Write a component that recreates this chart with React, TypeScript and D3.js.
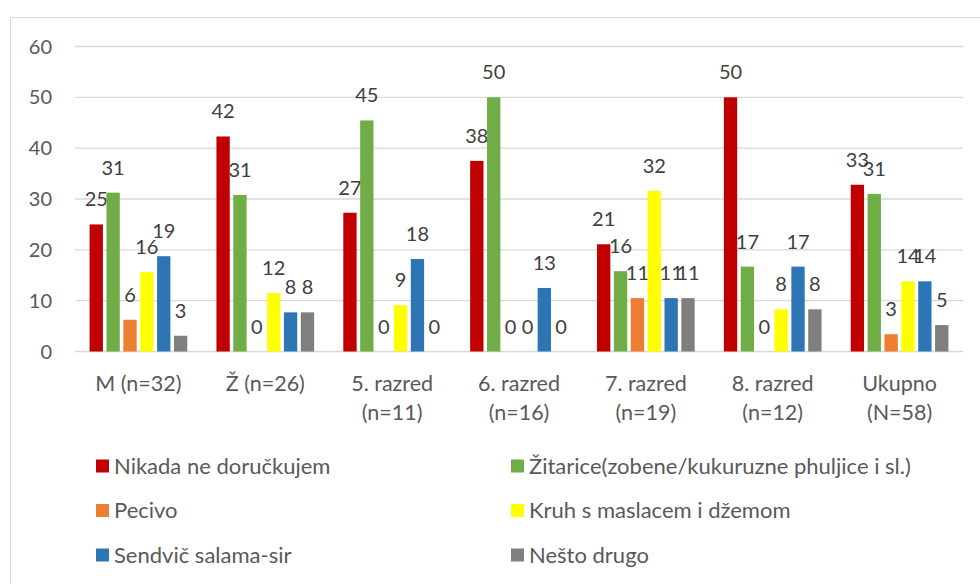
import * as d3 from "d3";
import { useEffect, useRef } from "react";

const categories = [
  ["M (n=32)"],
  ["Ž (n=26)"],
  ["5. razred", "(n=11)"],
  ["6. razred", "(n=16)"],
  ["7. razred", "(n=19)"],
  ["8. razred", "(n=12)"],
  ["Ukupno", "(N=58)"],
];

const seriesNames = [
  "Nikada ne doručkujem",
  "Žitarice(zobene/kukuruzne phuljice i sl.)",
  "Pecivo",
  "Kruh s maslacem i džemom",
  "Sendvič salama-sir",
  "Nešto drugo",
];

const colors = ["#C00000", "#70AD47", "#ED7D31", "#FFFF00", "#2E75B6", "#7F7F7F"];

// one array per series, values per category (percent)
const nikada = [25, 42.3, 27.3, 37.5, 21.1, 50, 32.8];
const zitarice = [31.25, 30.8, 45.45, 50, 15.8, 16.7, 31.0];
const pecivo = [6.25, 0, 0, 0, 10.5, 0, 3.4];
const kruh = [15.6, 11.5, 9.1, 0, 31.6, 8.3, 13.8];
const sendvic = [18.75, 7.7, 18.2, 12.5, 10.5, 16.7, 13.8];
const nestoDrugo = [3.1, 7.7, 0, 0, 10.5, 8.3, 5.2];

const series = [nikada, zitarice, pecivo, kruh, sendvic, nestoDrugo];
const yTicks = [0, 10, 20, 30, 40, 50, 60];

export default function App() {
  const svgRef = useRef<SVGSVGElement>(null);

  useEffect(() => {
    const w = 980;
    const h = 584;
    const svg = d3.select(svgRef.current).attr("width", w).attr("height", h);
    svg.selectAll("*").remove();

    const font = "Lato, 'Open Sans', sans-serif";

    // chart border
    svg
      .append("rect")
      .attr("x", 10.5)
      .attr("y", 17.5)
      .attr("width", 1000)
      .attr("height", 600)
      .attr("fill", "#fff")
      .attr("stroke", "#d9d9d9");

    //scales
    const left = 75;
    const right = 963;
    const x0 = d3
      .scaleBand()
      .domain(categories.map((_, i) => String(i)))
      .range([left, right])
      .paddingInner(0.23)
      .paddingOuter(0.115);
    const x1 = d3
      .scaleBand()
      .domain(seriesNames.map((_, i) => String(i)))
      .range([0, x0.bandwidth()])
      .paddingInner(0.21);
    const y = d3.scaleLinear().domain([0, 60]).range([351.5, 46.5]);

    //grid
    svg
      .append("g")
      .selectAll("line")
      .data(yTicks)
      .join("line")
      .attr("x1", left)
      .attr("x2", right)
      .attr("y1", (d) => y(d))
      .attr("y2", (d) => y(d))
      .attr("stroke", "#d9d9d9")
      .attr("stroke-width", 1.3);

    svg
      .append("g")
      .selectAll("text")
      .data(yTicks)
      .join("text")
      .attr("x", 52)
      .attr("y", (d) => y(d))
      .attr("dy", "0.35em")
      .attr("text-anchor", "end")
      .attr("font-family", font)
      .attr("font-size", 20)
      .attr("fill", "#595959")
      .text((d) => d);

    //bars
    series.forEach((vals, s) => {
      const g = svg.append("g");
      g.selectAll("rect")
        .data(vals)
        .join("rect")
        .attr("x", (_, i) => x0(String(i))! + x1(String(s))!)
        .attr("y", (v) => y(v))
        .attr("width", x1.bandwidth())
        .attr("height", (v) => y(0) - y(v))
        .attr("fill", colors[s]);
      g.selectAll("text")
        .data(vals)
        .join("text")
        .attr("x", (_, i) => x0(String(i))! + x1(String(s))! + x1.bandwidth() / 2)
        .attr("y", (v) => y(v) - 18)
        .attr("text-anchor", "middle")
        .attr("font-family", font)
        .attr("font-size", 20)
        .attr("fill", "#404040")
        .text((v) => Math.round(v));
    });

    //category labels
    const cat = svg.append("g");
    categories.forEach((lines, i) => {
      lines.forEach((line, j) => {
        cat
          .append("text")
          .attr("x", x0(String(i))! + x0.bandwidth() / 2)
          .attr("y", 391 + j * 29)
          .attr("text-anchor", "middle")
          .attr("font-family", font)
          .attr("font-size", 21.5)
          .attr("fill", "#595959")
          .text(line);
      });
    });

    //legend
    const legend = svg.append("g");
    seriesNames.forEach((name, i) => {
      const col = i % 2;
      const row = Math.floor(i / 2);
      const lx = col === 0 ? 96 : 511;
      const ly = 466 + row * 44.5;
      legend
        .append("rect")
        .attr("x", lx)
        .attr("y", ly - 6.5)
        .attr("width", 13)
        .attr("height", 13)
        .attr("fill", colors[i]);
      legend
        .append("text")
        .attr("x", lx + 18)
        .attr("y", ly)
        .attr("dy", "0.35em")
        .attr("font-family", font)
        .attr("font-size", 22)
        .attr("fill", "#595959")
        .text(name);
    });
  }, []);

  return (
    <div>
      <svg ref={svgRef} style={{ position: "absolute", left: 0, top: 0 }}></svg>
    </div>
  );
}
